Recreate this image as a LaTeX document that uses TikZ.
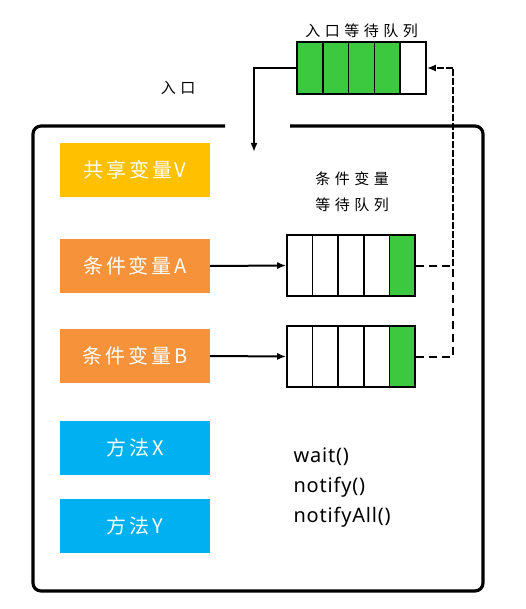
\documentclass[tikz,border=0pt]{standalone}
\usepackage{fontspec}
\setmainfont{Noto Sans}
\newfontfamily\cjkbox[LetterSpace=14]{Noto Sans CJK SC}
\newfontfamily\cjklabel[LetterSpace=30]{Noto Sans CJK SC}
\newfontfamily\opsfont[LetterSpace=4]{Noto Sans}
\usetikzlibrary{positioning,arrows.meta}
\definecolor{shareyellow}{HTML}{FFC000}
\definecolor{condorange}{HTML}{F5923A}
\definecolor{methodblue}{HTML}{00B0F0}
\definecolor{waitgreen}{HTML}{3CC83F}

\begin{document}
\begin{tikzpicture}[x=1pt,y=-1pt,
 box/.style={minimum width=150pt,minimum height=54pt,inner sep=0pt,text=white,
   font=\cjkbox\fontsize{20}{22}\selectfont},
 boxV/.style={box,fill=shareyellow},
 boxC/.style={box,fill=condorange},
 boxM/.style={box,fill=methodblue},
 cell/.style={draw,line width=1.6pt,minimum width=25.8pt,minimum height=52pt,inner sep=0pt},
 ccell/.style={cell,minimum width=25.6pt,minimum height=61pt},
 lbl/.style={font=\cjklabel\fontsize{15}{26}\selectfont,align=center},
 conn/.style={line width=2pt,-{Latex[length=9pt,width=7pt]}},
 back/.style={line width=2pt,dash pattern=on 8pt off 5pt},
 ]
\useasboundingbox (0,0) rectangle (526,609);

%Rahmen
\draw[line width=3.2pt,rounded corners=8pt]
  (225,126) -- (33,126) -- (33,591) -- (483,591) -- (483,126) -- (290,126);

\node[boxV] (shared) at (135,170) {共享变量V};
\node[boxC] (condA)  at (135,266) {条件变量A};
\node[boxC] (condB)  at (135,356) {条件变量B};
\node[boxM] (methX)  at (135,448) {方法X};
\node[boxM] (methY)  at (135,526) {方法Y};

%Warteschlangen
\foreach \i/\c in {1/waitgreen,2/waitgreen,3/waitgreen,4/waitgreen,5/white} {
  \node[cell,fill=\c] (entry\i) at ({284.1+25.8*\i},68) {};
}
\foreach \i/\c in {1/white,2/white,3/white,4/white,5/waitgreen} {
  \node[ccell,fill=\c] (qa\i) at ({274.2+25.6*\i},265.5) {};
  \node[ccell,fill=\c] (qb\i) at ({274.2+25.6*\i},356.5) {};
}

\node[lbl,above=0pt of entry3] (entrylbl) {入口等待队列};
\node[lbl] (door) at (178,88) {入口};
\node[lbl] (condlbl) at (352,192) {条件变量\\等待队列};

\node[anchor=north west,align=left,font=\opsfont\fontsize{20}{30}\selectfont] (ops)
  at (290,444) {wait()\\notify()\\notifyAll()};

%Pfeile
\coordinate (entrance) at (254,152);
\coordinate (turnA) at (453,265.5);
\draw[conn] (entry1.west) -| (entrance);
\draw[conn] (condA.east) -- (qa1.west);
\draw[conn] (condB.east) -- (qb1.west);
\draw[back] (qa5.east) -- (turnA);
\draw[back] (qb5.east) -| (turnA);
\draw[conn,dash pattern=on 7pt off 2pt] (turnA) |- (entry5.east);

\end{tikzpicture}
\end{document}
